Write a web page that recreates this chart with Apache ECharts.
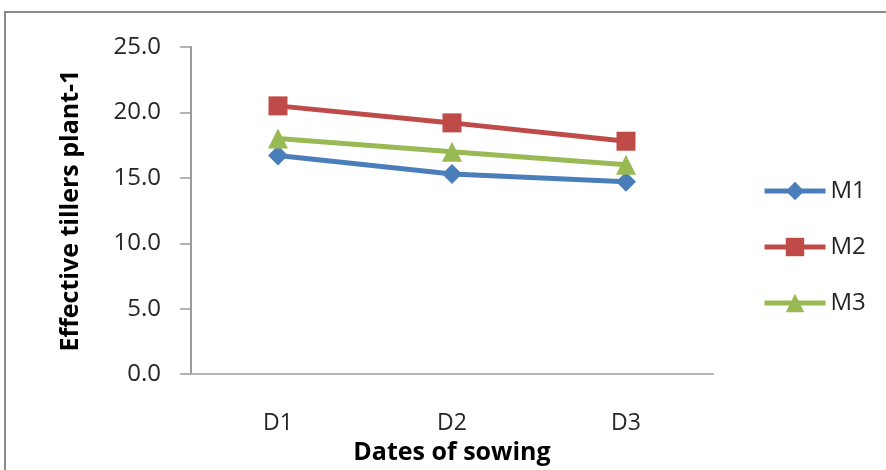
<!DOCTYPE html>
<html>
<head>
<meta charset="utf-8">
<script src="https://cdn.jsdelivr.net/npm/echarts@6/dist/echarts.min.js"></script>
<style>html,body{margin:0;padding:0;background:#fff}#c{width:886px;height:470px}</style>
</head>
<body>
<div id="c"></div>
<script>
const categories = ['D1', 'D2', 'D3'];
const seriesNames = ['M1', 'M2', 'M3'];
const m1 = [16.7, 15.3, 14.7];
const m2 = [20.5, 19.2, 17.8];
const m3 = [18.0, 17.0, 16.0];
const yTicks = [0, 5, 10, 15, 20, 25];

const FONT = 'Open Sans';
const chart = echarts.init(document.getElementById('c'));
const colors = ['#4A7EBB', '#BE4B48', '#98B954'];
const symbols = ['diamond', 'rect', 'triangle'];
const sizes = [20, 19, 20];
const data = [m1, m2, m3];

chart.setOption({
  animation: false,
  textStyle: { fontFamily: FONT },
  graphic: [{
    type: 'rect',
    shape: { x: 5, y: 12, width: 900, height: 480 },
    style: { fill: 'none', stroke: '#8a8a8a', lineWidth: 2 },
    silent: true
  }],
  grid: { left: 191, right: 173, top: 47, bottom: 92 },
  legend: {
    orient: 'vertical',
    left: 757,
    top: 174,
    itemWidth: 61,
    itemHeight: 23,
    itemGap: 32,
    lineStyle: { width: 5 },
    textStyle: { fontFamily: FONT, fontSize: 24, color: '#262626' },
    data: seriesNames
  },
  xAxis: {
    type: 'category',
    data: categories,
    boundaryGap: true,
    axisLine: { lineStyle: { color: '#b4b4b4', width: 2 } },
    axisTick: { show: false },
    axisLabel: { fontFamily: FONT, fontSize: 23, color: '#262626', margin: 38 },
    name: 'Dates of sowing',
    nameLocation: 'middle',
    nameGap: 63,
    nameTextStyle: { fontFamily: FONT, fontSize: 25, fontWeight: 'bold', color: '#000', verticalAlign: 'top' }
  },
  yAxis: {
    type: 'value',
    min: yTicks[0],
    max: yTicks[yTicks.length - 1],
    interval: 5,
    axisLine: { show: true, lineStyle: { color: '#9a9a9a', width: 2 } },
    axisTick: { show: true, length: 11, lineStyle: { color: '#9a9a9a', width: 1.5 } },
    splitLine: { show: false },
    axisLabel: { fontFamily: FONT, fontSize: 24, color: '#262626', margin: 30,
      formatter: v => v.toFixed(1) },
    name: 'Effective tillers plant-1',
    nameLocation: 'middle',
    nameGap: 108,
    nameTextStyle: { fontFamily: FONT, fontSize: 25, fontWeight: 'bold', color: '#000' }
  },
  series: seriesNames.map((n, i) => ({
    name: n,
    type: 'line',
    data: data[i],
    symbol: symbols[i],
    symbolSize: sizes[i],
    lineStyle: { color: colors[i], width: 5 },
    itemStyle: { color: colors[i] },
    z: 2 + i
  }))
});
</script>
</body>
</html>
